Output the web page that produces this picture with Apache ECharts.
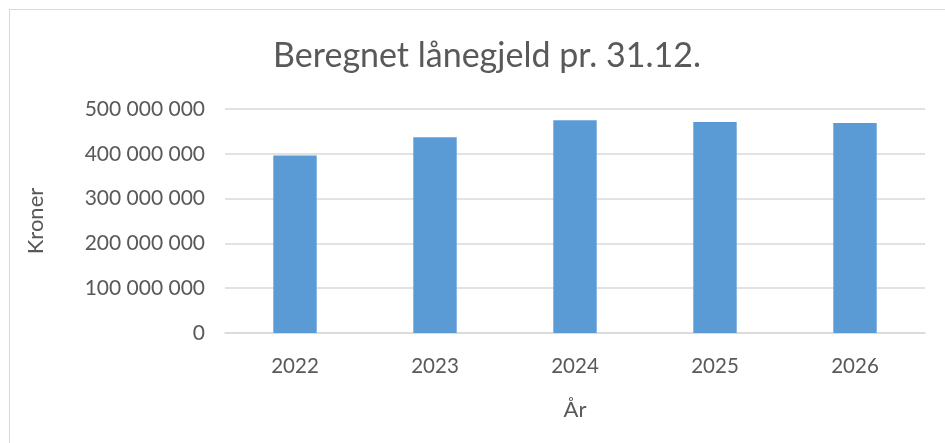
<!DOCTYPE html>
<html>
<head>
<meta charset="utf-8">
<script src="https://cdn.jsdelivr.net/npm/echarts@6/dist/echarts.min.js"></script>
<style>
  html, body { margin: 0; padding: 0; background: #fff; }
  #frame { position: absolute; left: 9px; top: 9px; width: 950px; height: 450px; border: 1.5px solid #d9d9d9; box-sizing: border-box; }
  #chart { position: absolute; left: 0; top: 0; width: 945px; height: 443px; }
</style>
</head>
<body>
<div id="frame"></div>
<div id="chart"></div>
<script>
// år og lånegjeld
const years = ["2022", "2023", "2024", "2025", "2026"];
const debt = [396000000, 437000000, 475000000, 471000000, 469000000];
const yTicks = [0, 100000000, 200000000, 300000000, 400000000, 500000000];

const chart = echarts.init(document.getElementById("chart"), null, { renderer: "canvas" });

// tusenskille med mellomrom
function fmt(v) {
  return String(v).replace(/\B(?=(\d{3})+(?!\d))/g, " ");
}

const option = {
  animation: false,
  textStyle: { fontFamily: "Lato", color: "#595959" },
  title: {
    text: "Beregnet lånegjeld pr. 31.12.",
    left: 482,
    top: 34,
    textAlign: "center",
    textStyle: { fontFamily: "Lato", fontSize: 34, fontWeight: "normal", color: "#595959" }
  },
  grid: { left: 225, right: 20, top: 109, bottom: 110 },
  xAxis: {
    type: "category",
    data: years,
    name: "År",
    nameLocation: "middle",
    nameGap: 66,
    nameTextStyle: { fontSize: 22, color: "#595959" },
    axisLine: { lineStyle: { color: "#d9d9d9", width: 1.5 } },
    axisTick: { show: false },
    axisLabel: { fontSize: 20.5, color: "#595959", margin: 23 }
  },
  yAxis: {
    type: "value",
    min: yTicks[0],
    max: yTicks[yTicks.length - 1],
    interval: 100000000,
    name: "Kroner",
    nameLocation: "middle",
    nameGap: 178,
    nameTextStyle: { fontSize: 22, color: "#595959" },
    axisLabel: { fontSize: 21, color: "#595959", margin: 20, formatter: fmt },
    splitLine: { lineStyle: { color: "#d9d9d9", width: 1.5 } }
  },
  series: [
    {
      type: "bar",
      data: debt,
      barWidth: "31%",
      itemStyle: { color: "#5b9bd5" }
    }
  ]
};
chart.setOption(option);
</script>
</body>
</html>
